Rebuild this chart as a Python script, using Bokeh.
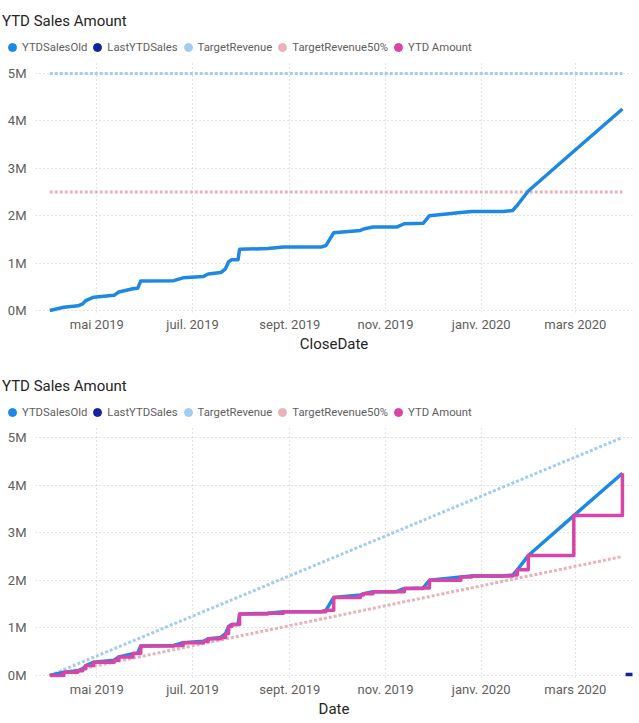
import pandas as pd
from bokeh.plotting import figure
from bokeh.models import ColumnDataSource, Legend, LegendItem, FixedTicker, Range1d
from bokeh.layouts import column
from bokeh.embed import file_html
from bokeh.resources import INLINE

# ---------------- data ----------------
close_dates = ["2019-04-01", "2019-04-10", "2019-04-19", "2019-04-22", "2019-04-24", "2019-04-29",
               "2019-05-12", "2019-05-15", "2019-05-24", "2019-05-27", "2019-05-29", "2019-06-19",
               "2019-06-25", "2019-07-08", "2019-07-11", "2019-07-19", "2019-07-22", "2019-07-24",
               "2019-07-26", "2019-07-30", "2019-07-31", "2019-08-18", "2019-08-28", "2019-09-21",
               "2019-09-24", "2019-09-29", "2019-10-16", "2019-10-18", "2019-10-24", "2019-11-08",
               "2019-11-13", "2019-11-25", "2019-11-29", "2019-12-19", "2019-12-26", "2020-01-15",
               "2020-01-21", "2020-01-24", "2020-01-31", "2020-02-29", "2020-03-31"]
ytd_sales_old = [0.00, 0.07, 0.10, 0.14, 0.21, 0.28,
                 0.32, 0.39, 0.46, 0.47, 0.62, 0.63,
                 0.69, 0.72, 0.77, 0.80, 0.88, 1.03,
                 1.07, 1.07, 1.29, 1.31, 1.34, 1.34,
                 1.37, 1.64, 1.69, 1.72, 1.76, 1.76,
                 1.83, 1.84, 2.00, 2.07, 2.09, 2.09,
                 2.11, 2.22, 2.52, 3.36, 4.25]
ytd_amount_dates = close_dates
ytd_amount = ytd_sales_old

last_ytd_dates = ["2020-04-02", "2020-04-07"]
last_ytd_sales = [0.02, 0.02]

target_dates = ["2019-04-01", "2020-03-31"]
target_revenue_flat = [5.0, 5.0]
target_revenue50_flat = [2.5, 2.5]
target_revenue_ramp = [0.0, 5.0]
target_revenue50_ramp = [0.0, 2.5]

month_ticks = ["2019-05-01", "2019-07-01", "2019-09-01", "2019-11-01", "2020-01-01", "2020-03-01"]
month_labels = ["mai 2019", "juil. 2019", "sept. 2019", "nov. 2019", "janv. 2020", "mars 2020"]
y_ticks = [0, 1, 2, 3, 4, 5]
y_labels = ["0M", "1M", "2M", "3M", "4M", "5M"]

chart_title = "YTD Sales Amount"
series_names = ["YTDSalesOld", "LastYTDSales", "TargetRevenue", "TargetRevenue50%", "YTD Amount"]
series_colors = ["#1E88E5", "#12239E", "#A3CCF2", "#E8B2BA", "#D944A8"]

# ---------------- helpers ----------------
FONT = "Roboto"
W = 639
NAN = float("nan")


def to_ms(dates):
    return [pd.Timestamp(d).value / 1e6 for d in dates]


X_START = to_ms(["2019-03-22 22:00"])[0]
X_END = to_ms(["2020-04-06 10:00"])[0]


def make_header():
    h = figure(width=W, height=62, output_backend="svg", toolbar_location=None,
               x_axis_location=None, y_axis_location=None,
               x_range=Range1d(0, 1), y_range=Range1d(0, 1),
               min_border_left=0, min_border_right=0, min_border_top=0, min_border_bottom=0)
    if "frame_align" in h.properties():
        h.frame_align = False
    h.outline_line_color = None
    h.xgrid.visible = False
    h.ygrid.visible = False
    items = []
    for name, col in zip(series_names, series_colors):
        # legend-only glyph: one undefined (NaN) point, so nothing is drawn in the frame
        r = h.scatter(x=[NAN], y=[NAN], marker="circle", size=8, fill_color=col, line_color=col)
        items.append(LegendItem(label=name, renderers=[r]))
    leg = Legend(items=items, orientation="horizontal", location=(2, 5),
                 title=chart_title, title_text_font=FONT, title_text_font_size="15px",
                 title_text_font_style="normal", title_text_color="#252423",
                 title_standoff=7,
                 glyph_width=20, glyph_height=20, label_height=20,
                 label_standoff=0, spacing=0, padding=0, margin=0,
                 border_line_color=None, background_fill_alpha=0,
                 label_text_font=FONT, label_text_font_size="11.3px",
                 label_text_color="#605E5C")
    h.add_layout(leg, "center")
    return h


def make_fig(height, bottom, x_title, y_end):
    p = figure(width=W, height=height, output_backend="svg", toolbar_location=None,
               x_axis_type="datetime",
               x_range=Range1d(X_START, X_END), y_range=Range1d(-0.042, y_end),
               min_border_left=35, min_border_right=7,
               min_border_top=0, min_border_bottom=bottom)
    p.outline_line_color = None
    p.background_fill_color = "white"
    p.border_fill_color = "white"

    xt = to_ms(month_ticks)
    p.xaxis.ticker = FixedTicker(ticks=xt)
    p.xaxis.major_label_overrides = {t: l for t, l in zip(xt, month_labels)}
    p.yaxis.ticker = FixedTicker(ticks=y_ticks)
    p.yaxis.major_label_overrides = {t: l for t, l in zip(y_ticks, y_labels)}

    for ax in (p.xaxis, p.yaxis):
        ax.axis_line_color = None
        ax.major_tick_line_color = None
        ax.minor_tick_line_color = None
        ax.major_tick_out = 0
        ax.major_tick_in = 0
        ax.minor_tick_out = 0
        ax.major_label_text_font = FONT
        ax.major_label_text_font_size = "13px"
        ax.major_label_text_color = "#605E5C"
    p.yaxis.major_label_standoff = 9
    p.xaxis.major_label_standoff = 4
    p.xaxis.axis_label = x_title
    p.xaxis.axis_label_text_font = FONT
    p.xaxis.axis_label_text_font_size = "15px"
    p.xaxis.axis_label_text_font_style = "normal"
    p.xaxis.axis_label_text_color = "#252423"
    p.xaxis.axis_label_standoff = 0

    for g in (p.xgrid, p.ygrid):
        g.grid_line_color = "#C8C6C4"
        g.grid_line_dash = "1 3"
        g.grid_line_width = 1
    p.xgrid.ticker = FixedTicker(ticks=xt)
    p.ygrid.ticker = FixedTicker(ticks=y_ticks)
    return p


# ---------------- chart 1 ----------------
h1 = make_header()
p1 = make_fig(303, 53, "CloseDate", 5.232)
t_src = ColumnDataSource(dict(x=to_ms(target_dates), full=target_revenue_flat,
                              half=target_revenue50_flat))
p1.line("x", "full", source=t_src, line_color=series_colors[2], line_width=3, line_dash="3 2")
p1.line("x", "half", source=t_src, line_color=series_colors[3], line_width=3, line_dash="3 2")
p1.line(to_ms(close_dates), ytd_sales_old, line_color=series_colors[0], line_width=3.5,
        line_join="round")

# ---------------- chart 2 ----------------
h2 = make_header()
p2 = make_fig(296, 46, "Date", 5.21)
r_src = ColumnDataSource(dict(x=to_ms(target_dates), full=target_revenue_ramp,
                              half=target_revenue50_ramp))
p2.line("x", "full", source=r_src, line_color=series_colors[2], line_width=3, line_dash="3 2")
p2.line("x", "half", source=r_src, line_color=series_colors[3], line_width=3, line_dash="3 2")
p2.line(to_ms(close_dates), ytd_sales_old, line_color=series_colors[0], line_width=3.5,
        line_join="round")
p2.step(to_ms(ytd_amount_dates), ytd_amount, mode="after", line_color=series_colors[4],
        line_width=3.5, line_join="round")
p2.line(to_ms(last_ytd_dates), last_ytd_sales, line_color=series_colors[1], line_width=3.5)

layout = column(h1, p1, h2, p2, spacing=0)
open("out.html", "w").write(file_html(layout, INLINE))
